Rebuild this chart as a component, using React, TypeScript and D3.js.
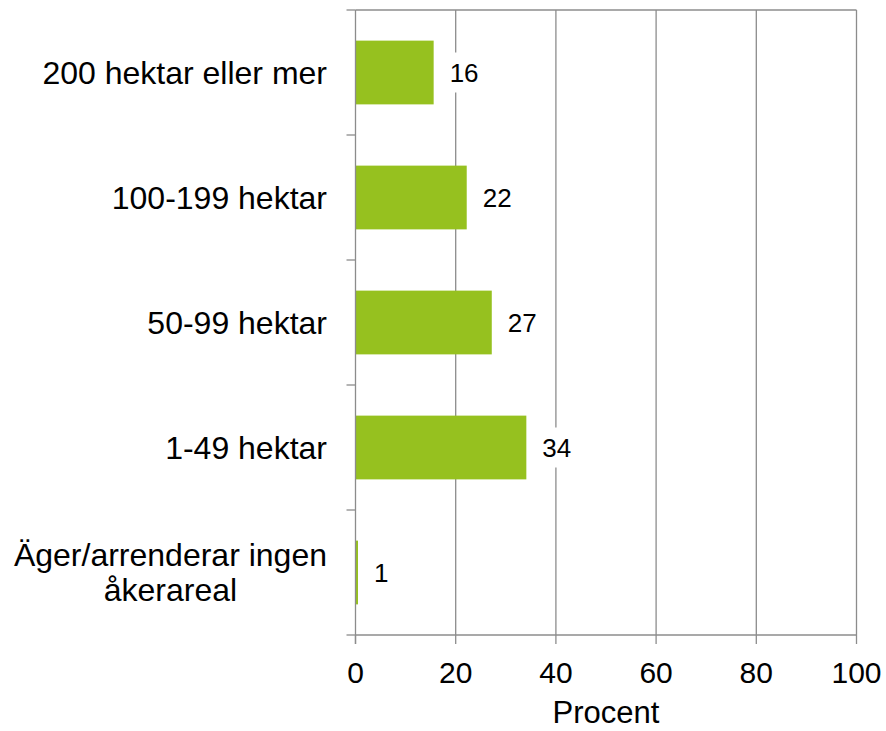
import { useEffect, useRef } from 'react'
import * as d3 from 'd3'

const categories = [
  '200 hektar eller mer',
  '100-199 hektar',
  '50-99 hektar',
  '1-49 hektar',
  'Äger/arrenderar ingen\nåkerareal',
]
const values = [15.6, 22.2, 27.2, 34.1, 0.5]
const xTicks = [0, 20, 40, 60, 80, 100]
const axisTitle = 'Procent'

const W = 886
const H = 731
const FONT = '"Liberation Sans", Arial, sans-serif'

export default function App() {
  const ref = useRef<SVGSVGElement>(null)

  useEffect(() => {
    const svg = d3.select(ref.current)
    svg.selectAll('*').remove()

    const left = 355.5
    const right = 856.5
    const top = 10
    const bottom = 635

    const x = d3.scaleLinear().domain([0, 100]).range([left, right])
    const y = d3
      .scaleBand()
      .domain(categories)
      .range([top, bottom])
      .paddingInner(0.49)
      .paddingOuter(0.245)
    const step = y.step()
    const grid = '#8c8c8c'

    // gridlines + plot border
    svg
      .append('g')
      .selectAll('line')
      .data(xTicks.slice(1))
      .enter()
      .append('line')
      .attr('x1', (d) => x(d))
      .attr('x2', (d) => x(d))
      .attr('y1', top)
      .attr('y2', bottom)
      .attr('stroke', grid)
      .attr('stroke-width', 1.3)
    svg
      .append('line')
      .attr('x1', left)
      .attr('x2', right)
      .attr('y1', top)
      .attr('y2', top)
      .attr('stroke', grid)
      .attr('stroke-width', 1.3)

    // bars
    svg
      .append('g')
      .selectAll('rect')
      .data(values)
      .enter()
      .append('rect')
      .attr('x', x(0))
      .attr('y', (_, i) => y(categories[i]) as number)
      .attr('width', (d) => x(d) - x(0))
      .attr('height', y.bandwidth())
      .attr('fill', '#96c11f')

    // y axis line and ticks
    svg
      .append('line')
      .attr('x1', left)
      .attr('x2', left)
      .attr('y1', top)
      .attr('y2', bottom + 9)
      .attr('stroke', grid)
      .attr('stroke-width', 1.3)
    const yTickPos = d3.range(categories.length + 1).map((i) => top + i * step)
    svg
      .append('g')
      .selectAll('line')
      .data(yTickPos)
      .enter()
      .append('line')
      .attr('x1', left - 9)
      .attr('x2', left)
      .attr('y1', (d) => d)
      .attr('y2', (d) => d)
      .attr('stroke', grid)
      .attr('stroke-width', 1.3)

    // x axis line and ticks
    svg
      .append('line')
      .attr('x1', left)
      .attr('x2', right)
      .attr('y1', bottom)
      .attr('y2', bottom)
      .attr('stroke', grid)
      .attr('stroke-width', 1.3)
    svg
      .append('g')
      .selectAll('line')
      .data(xTicks)
      .enter()
      .append('line')
      .attr('x1', (d) => x(d))
      .attr('x2', (d) => x(d))
      .attr('y1', bottom)
      .attr('y2', bottom + 9)
      .attr('stroke', grid)
      .attr('stroke-width', 1.3)
    svg
      .append('g')
      .selectAll('text')
      .data(xTicks)
      .enter()
      .append('text')
      .attr('x', (d) => x(d))
      .attr('y', 683)
      .attr('text-anchor', 'middle')
      .attr('font-family', FONT)
      .attr('font-size', 30)
      .attr('fill', '#000')
      .text((d) => d)

    svg
      .append('text')
      .attr('x', x(50))
      .attr('y', 723)
      .attr('text-anchor', 'middle')
      .attr('font-family', FONT)
      .attr('font-size', 31)
      .attr('fill', '#000')
      .text(axisTitle)

    // category labels
    const labelRight = 327
    categories.forEach((c) => {
      const lines = c.split('\n')
      const cy = (y(c) as number) + y.bandwidth() / 2
      const lh = 35
      const g = svg.append('g')
      const texts = lines.map((ln, j) =>
        g
          .append('text')
          .attr('y', cy + (j - (lines.length - 1) / 2) * lh + 11)
          .attr('font-family', FONT)
          .attr('font-size', 32)
          .attr('fill', '#000')
          .text(ln)
      )
      if (lines.length === 1) {
        texts[0].attr('x', labelRight).attr('text-anchor', 'end')
      } else {
        const maxW = d3.max(texts, (t) => (t.node() as SVGTextElement).getComputedTextLength()) || 0
        texts.forEach((t) => t.attr('x', labelRight - maxW / 2).attr('text-anchor', 'middle'))
      }
    })

    // value labels with white box
    values.forEach((v, i) => {
      const cy = (y(categories[i]) as number) + y.bandwidth() / 2
      const g = svg.append('g')
      const rect = g.append('rect').attr('fill', '#fff')
      const t = g
        .append('text')
        .attr('x', x(v) + 16)
        .attr('y', cy + 9)
        .attr('font-family', FONT)
        .attr('font-size', 26)
        .attr('fill', '#000')
        .text(Math.round(v))
      const bb = (t.node() as SVGTextElement).getBBox()
      rect
        .attr('x', bb.x - 4)
        .attr('y', cy - 20)
        .attr('width', bb.width + 8)
        .attr('height', 40)
    })
  }, [])

  return (
    <div style={{ position: 'absolute', left: 0, top: 0, width: W, height: H, background: '#fff' }}>
      <svg ref={ref} width={W} height={H} />
    </div>
  )
}
